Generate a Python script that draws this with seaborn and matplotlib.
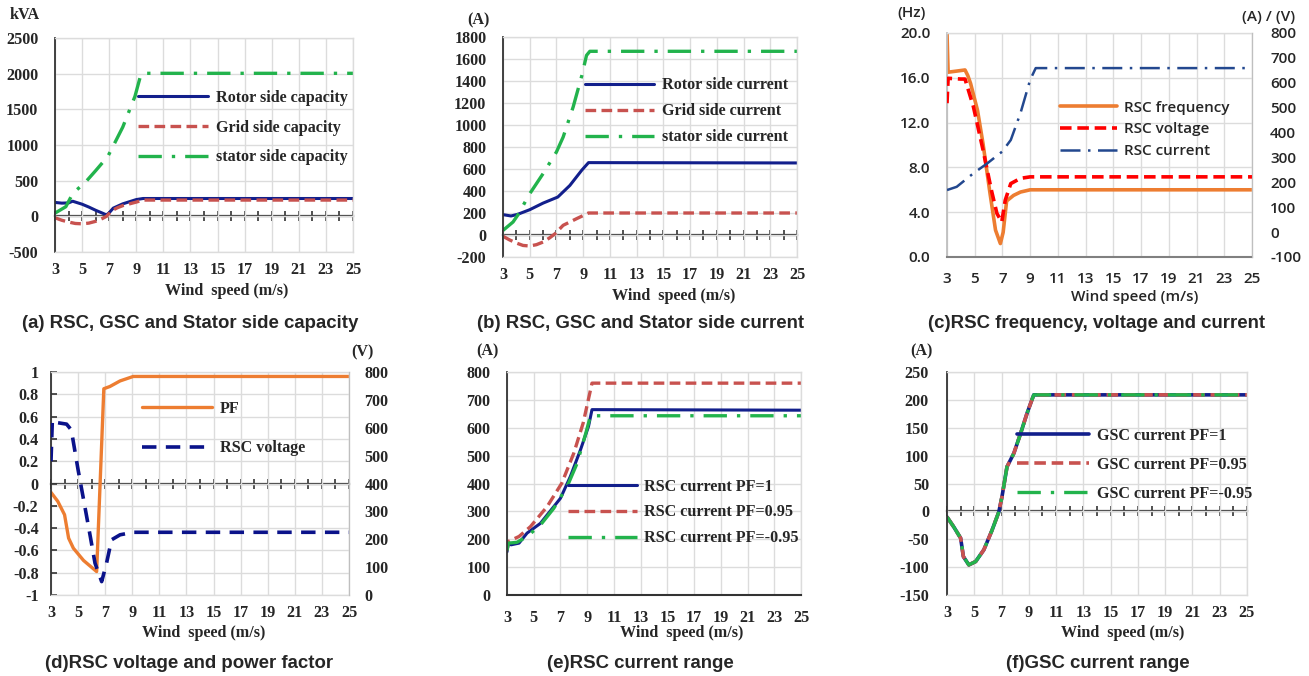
import matplotlib
matplotlib.use("Agg")
import matplotlib.pyplot as plt
import seaborn as sns
from matplotlib.ticker import FixedLocator

# ---------------- data ----------------
# (a) converter / stator capacity, kVA
a_rotor_x = [3, 3.5, 4, 4.3, 5, 5.5, 6, 6.5, 6.8, 7.0, 7.3, 8, 9, 9.5, 25]
a_rotor_y = [195, 185, 188, 212, 170, 130, 85, 45, 20, 50, 115, 175, 235, 250, 250]
a_grid_x = [3, 3.5, 4, 4.5, 5, 5.5, 6, 6.5, 6.8, 7.2, 7.6, 8, 8.5, 9, 9.5, 25]
a_grid_y = [-20, -55, -80, -100, -105, -95, -70, -30, 0, 80, 120, 150, 175, 200, 228, 228]
a_stator_x = [3, 3.8, 4.2, 4.6, 5.3, 6, 6.9, 7.4, 8, 8.9, 9.3, 9.5, 25]
a_stator_y = [45, 135, 280, 370, 490, 640, 840, 1025, 1250, 1680, 1960, 2005, 2005]

# (b) converter / stator current, A
b_rotor_x = [3, 3.6, 4.1, 5, 6, 7.1, 8, 8.9, 9.4, 25]
b_rotor_y = [185, 173, 188, 230, 290, 345, 450, 590, 658, 655]
b_grid_x = [3, 3.5, 4, 4.5, 5, 5.5, 6, 6.5, 6.9, 7.5, 8.5, 9.4, 25]
b_grid_y = [-12, -45, -73, -95, -100, -88, -64, -25, 12, 88, 148, 200, 200]
b_stator_x = [3, 3.75, 4.1, 5, 6, 7, 7.5, 8.25, 8.9, 9.25, 9.5, 25]
b_stator_y = [42, 118, 180, 375, 558, 755, 890, 1164, 1450, 1633, 1670, 1670]

# (c) RSC frequency (Hz), voltage (V) and current (A)
c_freq_x = [3, 3.08, 3.7, 4.3, 4.5, 4.7, 5.2, 5.6, 6.1, 6.5, 6.85, 7.05, 7.3, 7.8, 8.3, 9, 25]
c_freq_y = [20, 16.5, 16.6, 16.7, 16.2, 15.5, 13.1, 10.1, 5.7, 2.4, 1.2, 2.2, 5.0, 5.5, 5.8, 6.0, 6.0]
c_volt_x = [3, 3.08, 4, 4.3, 4.9, 5.6, 6.2, 6.6, 6.95, 7.2, 7.6, 8.3, 9, 25]
c_volt_y = [518, 618, 615, 615, 505, 330, 169, 75, 41, 128, 195, 216, 222, 222]
c_curr_x = [3, 3.7, 4.9, 5.9, 6.97, 7.6, 8.3, 9, 9.4, 25]
c_curr_y = [169, 182, 236, 276, 323, 370, 478, 612, 659, 659]

# (d) power factor and RSC voltage (V)
d_pf_x = [3, 3.5, 4, 4.3, 4.65, 5.4, 6.37, 6.9, 7.35, 8.1, 9.07, 9.5, 25]
d_pf_y = [-0.08, -0.16, -0.28, -0.49, -0.58, -0.69, -0.79, 0.85, 0.87, 0.92, 0.96, 0.96, 0.96]
d_volt_x = [3, 3.1, 3.5, 4.15, 4.5, 5, 5.5, 5.9, 6.25, 6.74, 7.1, 7.47, 8.1, 9.07, 25]
d_volt_y = [480, 628, 618, 613, 592, 449, 317, 210, 114, 48, 114, 198, 216, 225, 225]

# (e) RSC current for three power factors, A
e_pf1_x = [3, 3.1, 3.3, 3.9, 4.5, 5.5, 7, 7.74, 8.5, 9.1, 9.36, 25]
e_pf1_y = [155, 186, 180, 186, 222, 257, 347, 425, 521, 605, 665, 663]
e_pf095_x = [3, 3.1, 3.9, 4.75, 6, 7.1, 8, 8.7, 9.36, 25]
e_pf095_y = [160, 192, 210, 245, 317, 401, 509, 617, 760, 760]
e_pfm095_x = [3, 3.1, 3.75, 4.5, 5.5, 6.5, 7.5, 8.25, 8.9, 9.25, 25]
e_pfm095_y = [160, 186, 189, 210, 251, 311, 389, 473, 581, 643, 643]

# (f) GSC current, identical for the three power factors, A
f_x = [3, 3.5, 4, 4.2, 4.6, 5.1, 5.7, 6.3, 6.8, 7.03, 7.4, 7.9, 8.4, 8.87, 9.36, 25]
f_pf1_y = [-10, -28, -48, -81, -96, -90, -69, -34, -1, 26, 80, 104, 140, 176, 209, 209]
f_pf095_y = [-10, -28, -48, -81, -96, -90, -69, -34, -1, 26, 80, 104, 140, 176, 209, 209]
f_pfm095_y = [-10, -28, -48, -81, -96, -90, -69, -34, -1, 26, 80, 104, 140, 176, 209, 209]

x_ticks = list(range(3, 26, 2))

# ---------------- style ----------------
sns.set_style("white")
plt.rcParams["font.family"] = ["Liberation Serif", "DejaVu Serif"]
plt.rcParams["font.weight"] = "bold"
plt.rcParams["axes.unicode_minus"] = False

NAVY = "#121f8c"
RED = "#c8524f"
GREEN = "#22b34c"
ORANGE = "#ed7d31"
GRID = "#dcdcdc"
DARK = "#333333"

SERIF = dict(family="Liberation Serif", weight="bold", size=11.6)
SANS_C = dict(family="Open Sans", weight="semibold", size=11)
CAPTION = dict(family="Liberation Sans", weight="bold", size=13.4)

DASH = (0, (3.2, 1.6))
DASHDOT = (0, (7, 3, 1, 3))

W, H = 1309, 676
fig = plt.figure(figsize=(W / 100, H / 100), dpi=100)


def px_axes(x0, y0, x1, y1):
    return fig.add_axes([x0 / W, 1 - y1 / H, (x1 - x0) / W, (y1 - y0) / H])


def fig_text(x, y, s, font, **kw):
    fig.text(x / W, 1 - y / H, s, ha="center", va="center", fontdict=font, **kw)


def fmt(v):
    return f"{v:g}"


def base_style(ax, ylim, yticks, ylabels, font, ypad, xpad=7):
    ax.set_xlim(3, 25)
    ax.set_ylim(*ylim)
    ax.set_xticks(x_ticks, labels=[str(t) for t in x_ticks], **font)
    ax.set_yticks(yticks, labels=ylabels, **font)
    ax.grid(True, color=GRID, lw=1)
    ax.set_axisbelow(True)
    for s in ("top", "right", "bottom"):
        ax.spines[s].set_color(GRID)
        ax.spines[s].set_linewidth(1)
    ax.spines["left"].set_color(DARK)
    ax.spines["left"].set_linewidth(1.3)
    ax.tick_params(axis="y", direction="in", length=4, width=1.2, color=DARK, pad=ypad)
    ax.tick_params(axis="x", length=0, pad=xpad)


def zero_axis(ax):
    sec = ax.secondary_xaxis(0, transform=ax.transData)
    sec.set_xticks(list(range(3, 26)))
    sec.tick_params(direction="inout", length=7, width=1.2, color=DARK, labelbottom=False)
    sec.spines["bottom"].set_color(DARK)
    sec.spines["bottom"].set_linewidth(1.6)
    return sec


def bottom_axis(ax, color=DARK):
    ax.spines["bottom"].set_color(color)
    ax.spines["bottom"].set_linewidth(1.5)
    ax.xaxis.set_minor_locator(FixedLocator(list(range(4, 26, 2))))
    ax.tick_params(axis="x", which="major", direction="inout", length=8, width=1.2, color=color)
    ax.tick_params(axis="x", which="minor", direction="in", length=5, width=1.2, color=color)


def draw(ax, x, y, color, ls, lw, label):
    sns.lineplot(x=x, y=y, ax=ax, color=color, linestyle=ls, linewidth=lw,
                 sort=False, estimator=None, legend=False)
    line = ax.get_lines()[-1]
    line.set_label(label)
    return line


def put_legend(ax, handles, anchor, font, hl, htp, ls):
    ax.legend(handles=handles, loc="center left", bbox_to_anchor=anchor, frameon=False,
              borderpad=0, borderaxespad=0, handlelength=hl, handletextpad=htp,
              labelspacing=ls, prop=font)


# ---------------- (a) ----------------
ax = px_axes(55, 38, 353, 252)
yt = list(range(-500, 2501, 500))
base_style(ax, (-500, 2500), yt, [str(v) for v in yt], SERIF, 12)
zero_axis(ax)
h1 = draw(ax, a_rotor_x, a_rotor_y, NAVY, "-", 2.2, "Rotor side capacity")
h2 = draw(ax, a_grid_x, a_grid_y, RED, DASH, 2.4, "Grid side capacity")
h3 = draw(ax, a_stator_x, a_stator_y, GREEN, DASHDOT, 2.4, "stator side capacity")
put_legend(ax, [h1, h2, h3], (0.28, 0.581), SERIF, 4.3, 0.5, 0.85)
fig_text(25, 15, "kVA", SERIF)
fig_text(227, 291, "Wind  speed (m/s)", SERIF)
fig_text(190, 324, "(a) RSC, GSC and Stator side capacity", CAPTION)

# ---------------- (b) ----------------
ax = px_axes(503, 37, 797, 257)
yt = list(range(-200, 1801, 200))
base_style(ax, (-200, 1800), yt, [str(v) for v in yt], SERIF, 12)
zero_axis(ax)
h1 = draw(ax, b_rotor_x, b_rotor_y, NAVY, "-", 2.2, "Rotor side current")
h2 = draw(ax, b_grid_x, b_grid_y, RED, DASH, 2.4, "Grid side current")
h3 = draw(ax, b_stator_x, b_stator_y, GREEN, DASHDOT, 2.4, "stator side current")
put_legend(ax, [h1, h2, h3], (0.278, 0.662), SERIF, 4.3, 0.5, 0.62)
fig_text(478, 20, "(A)", SERIF)
fig_text(674, 296, "Wind  speed (m/s)", SERIF)
fig_text(641, 324, "(b) RSC, GSC and Stator side current", CAPTION)

# ---------------- (c) ----------------
ax = px_axes(947, 33, 1252, 257)
yt = [0, 4, 8, 12, 16, 20]
base_style(ax, (0, 20), yt, [f"{v:.1f}" for v in yt], SANS_C, 12)
ax.spines["left"].set_color("#bfbfbf")
ax.tick_params(axis="y", length=0)
bottom_axis(ax, "#808080")
ax2 = ax.twinx()
ax2.set_ylim(-100, 800)
yt2 = list(range(-100, 801, 100))
ax2.set_yticks(yt2, labels=[str(v) for v in yt2], **SANS_C)
ax2.tick_params(axis="y", length=0, pad=13)
for s in ("top", "left", "bottom"):
    ax2.spines[s].set_visible(False)
ax2.spines["right"].set_color("#bfbfbf")
h1 = draw(ax, c_freq_x, c_freq_y, ORANGE, "-", 2.6, "RSC frequency")
h2 = draw(ax2, c_volt_x, c_volt_y, "#ff0000", DASH, 2.6, "RSC voltage")
h3 = draw(ax2, c_curr_x, c_curr_y, "#23488f", (0, (8, 3, 1, 3)), 1.8, "RSC current")
put_legend(ax2, [h1, h2, h3], (0.372, 0.570), SANS_C, 3.7, 0.45, 0.5)
fig_text(912, 13, "(Hz)", SANS_C)
fig_text(1269, 17, "(A) / (V)", SANS_C)
fig_text(1135, 297, "Wind speed (m/s)", SANS_C)
fig_text(1097, 324, "(c)RSC frequency, voltage and current", CAPTION)

# ---------------- (d) ----------------
ax = px_axes(51, 372, 349, 595)
yt = [round(-1 + 0.2 * i, 1) for i in range(11)]
base_style(ax, (-1, 1), yt, [fmt(v) for v in yt], SERIF, 9)
zero_axis(ax)
ax2 = ax.twinx()
ax2.set_ylim(0, 800)
yt2 = list(range(0, 801, 100))
ax2.set_yticks(yt2, labels=[str(v) for v in yt2], **SERIF)
ax2.tick_params(axis="y", length=0, pad=11)
for s in ("top", "left", "bottom"):
    ax2.spines[s].set_visible(False)
ax2.spines["right"].set_color("#bfbfbf")
h1 = draw(ax, d_pf_x, d_pf_y, ORANGE, "-", 2.4, "PF")
h2 = draw(ax2, d_volt_x, d_volt_y, "#0a128a", (0, (4, 2.6)), 2.6, "RSC voltage")
put_legend(ax2, [h1, h2], (0.307, 0.746), SERIF, 4.3, 0.5, 1.45)
fig_text(362, 352, "(V)", SERIF)
fig_text(204, 633, "Wind  speed (m/s)", SERIF)
fig_text(189, 663, "(d)RSC voltage and power factor", CAPTION)

# ---------------- (e) ----------------
ax = px_axes(507, 372, 801, 595)
yt = list(range(0, 801, 100))
base_style(ax, (0, 800), yt, [str(v) for v in yt], SERIF, 12)
bottom_axis(ax)
h1 = draw(ax, e_pf1_x, e_pf1_y, NAVY, "-", 2.2, "RSC current PF=1")
h2 = draw(ax, e_pf095_x, e_pf095_y, RED, DASH, 2.4, "RSC current PF=0.95")
h3 = draw(ax, e_pfm095_x, e_pfm095_y, GREEN, DASHDOT, 2.4, "RSC current PF=-0.95")
put_legend(ax, [h1, h2, h3], (0.206, 0.370), SERIF, 4.3, 0.42, 0.6)
fig_text(487, 351, "(A)", SERIF)
fig_text(682, 633, "Wind  speed (m/s)", SERIF)
fig_text(640, 663, "(e)RSC current range", CAPTION)

# ---------------- (f) ----------------
ax = px_axes(947, 372, 1247, 595)
yt = list(range(-150, 251, 50))
base_style(ax, (-150, 250), yt, [str(v) for v in yt], SERIF, 13)
zero_axis(ax)
h1 = draw(ax, f_x, f_pf1_y, NAVY, "-", 2.6, "GSC current PF=1")
h2 = draw(ax, f_x, f_pf095_y, RED, DASH, 2.6, "GSC current PF=0.95")
h3 = draw(ax, f_x, f_pfm095_y, GREEN, DASHDOT, 2.4, "GSC current PF=-0.95")
put_legend(ax, [h1, h2, h3], (0.233, 0.584), SERIF, 4.5, 0.45, 0.8)
fig_text(921, 351, "(A)", SERIF)
fig_text(1123, 633, "Wind  speed (m/s)", SERIF)
fig_text(1098, 663, "(f)GSC current range", CAPTION)

fig.savefig("out.png", dpi=100)
